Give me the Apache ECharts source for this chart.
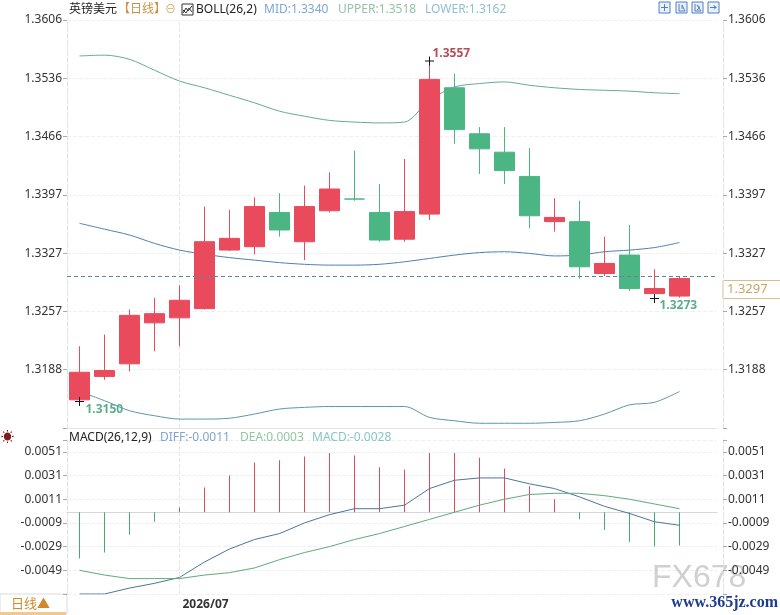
<!DOCTYPE html>
<html>
<head>
<meta charset="utf-8">
<script src="https://cdn.jsdelivr.net/npm/echarts@6/dist/echarts.min.js"></script>
<style>
html, body { margin: 0; padding: 0; background: #fff; }
#main { width: 780px; height: 615px; }
</style>
</head>
<body>
<div id="main"></div>
<script>
// daily GBP/USD, one empty slot kept on the right
const dates = ['2026/06/25', '2026/06/26', '2026/06/29', '2026/06/30',
    '2026/07/01', '2026/07/02', '2026/07/03', '2026/07/06', '2026/07/07', '2026/07/08',
    '2026/07/09', '2026/07/10', '2026/07/13', '2026/07/14', '2026/07/15', '2026/07/16',
    '2026/07/17', '2026/07/20', '2026/07/21', '2026/07/22', '2026/07/23', '2026/07/24',
    '2026/07/27', '2026/07/28', '2026/07/29', ' '];
const opens = [1.3152, 1.3180, 1.3195, 1.3244, 1.3250, 1.3261, 1.3331, 1.3335, 1.3376, 1.3341,
    1.3378, 1.3392, 1.3376, 1.3344, 1.3374, 1.3525, 1.3470, 1.3448, 1.3419, 1.3365,
    1.3365, 1.3303, 1.3325, 1.3279, 1.3276];
const closes = [1.3185, 1.3187, 1.3253, 1.3255, 1.3271, 1.3341, 1.3345, 1.3383, 1.3355, 1.3383,
    1.3404, 1.3392, 1.3343, 1.3377, 1.3535, 1.3475, 1.3452, 1.3426, 1.3372, 1.3370,
    1.3311, 1.3315, 1.3285, 1.3285, 1.3297];
const lows = [1.3150, 1.3176, 1.3186, 1.3210, 1.3216, 1.3260, 1.3330, 1.3326, 1.3347, 1.3319,
    1.3376, 1.3390, 1.3341, 1.3341, 1.3367, 1.3458, 1.3422, 1.3410, 1.3357, 1.3353,
    1.3297, 1.3300, 1.3282, 1.3273, 1.3274];
const highs = [1.3216, 1.3230, 1.3260, 1.3274, 1.3289, 1.3383, 1.3379, 1.3394, 1.3399, 1.3408,
    1.3424, 1.3450, 1.3410, 1.3440, 1.3557, 1.3542, 1.3478, 1.3478, 1.3453, 1.3393,
    1.3390, 1.3347, 1.3361, 1.3308, 1.3300];

const bollUpper = [1.3563, 1.3564, 1.3559, 1.3546, 1.3533, 1.3525, 1.3516, 1.3507, 1.3497, 1.3491,
    1.3486, 1.3484, 1.3483, 1.3484, 1.3510, 1.3526, 1.3530, 1.3532, 1.3528, 1.3525,
    1.3523, 1.3522, 1.3521, 1.3519, 1.3518];
const bollMid = [1.3363, 1.3356, 1.3349, 1.3339, 1.3331, 1.3326, 1.3322, 1.3319, 1.3316, 1.3314,
    1.3313, 1.3313, 1.3314, 1.3317, 1.3321, 1.3325, 1.3328, 1.3329, 1.3327, 1.3324,
    1.3325, 1.3329, 1.3331, 1.3334, 1.3340];
const bollLower = [1.3162, 1.3151, 1.3139, 1.3133, 1.3129, 1.3129, 1.3130, 1.3135, 1.3141, 1.3143,
    1.3144, 1.3144, 1.3144, 1.3144, 1.3131, 1.3127, 1.3124, 1.3124, 1.3124, 1.3125,
    1.3127, 1.3135, 1.3146, 1.3149, 1.3162];

const macdBar = [-0.0039, -0.0034, -0.0019, -0.0008, 0.0004, 0.0021, 0.0031, 0.0042, 0.0044, 0.0047,
    0.0050, 0.0048, 0.0038, 0.0036, 0.0050, 0.0050, 0.0046, 0.0037, 0.0022, 0.0011,
    -0.0006, -0.0015, -0.0025, -0.0029, -0.0028];
const macdDiff = [-0.0069, -0.0069, -0.0064, -0.0060, -0.0055, -0.0042, -0.0031, -0.0023, -0.0018, -0.0009,
    -0.0002, 0.0003, 0.0003, 0.0006, 0.0020, 0.0027, 0.0029, 0.0029, 0.0024, 0.0020,
    0.0013, 0.0005, -0.0001, -0.0008, -0.0011];
const macdDea = [-0.0049, -0.0053, -0.0056, -0.0056, -0.0056, -0.0053, -0.0051, -0.0047, -0.0040, -0.0034,
    -0.0029, -0.0023, -0.0018, -0.0012, -0.0006, 0.0000, 0.0006, 0.0011, 0.0015, 0.0016,
    0.0016, 0.0014, 0.0011, 0.0007, 0.0003];

const priceTicks = [1.3606, 1.3536, 1.3466, 1.3397, 1.3327, 1.3257, 1.3188];
const macdTicks = [0.0051, 0.0031, 0.0011, -0.0009, -0.0029, -0.0049];

const UP = '#e94b5c', DOWN = '#4bb583';
const FONT = "'Noto Sans', 'Noto Sans CJK SC', sans-serif";

const candles = opens.map((o, i) => [o, closes[i], lows[i], highs[i]]);
const last = closes.length - 1;

// top / bottom markers
let hiIdx = 0, loIdx = 0;
highs.forEach((h, i) => { if (h > highs[hiIdx]) hiIdx = i; });
lows.forEach((l, i) => { if (l < lows[loIdx]) loIdx = i; });
let lo2Idx = hiIdx + 1;
for (let i = hiIdx + 1; i < lows.length; i++) if (lows[i] < lows[lo2Idx]) lo2Idx = i;

const monthIdx = dates.findIndex(d => d.endsWith('/01'));

const priceStep = (priceTicks[0] - priceTicks[priceTicks.length - 1]) / (priceTicks.length - 1);
const priceMax = priceTicks[0];
const priceMin = priceTicks[priceTicks.length - 1] - priceStep;
const macdStep = 0.002;
const macdMin = -0.0069, macdMax = 0.0061;

function tickText(ticks, half) {
    return function (v) {
        const t = ticks.find(x => Math.abs(x - v) < half);
        return t === undefined ? '' : t.toFixed(4);
    };
}

const cross = 'path://M0 4H9V5H0Z M4 0H5V9H4Z';
const monthLine = {
    silent: true, symbol: 'none', label: { show: false }, z: 1,
    data: [{ xAxis: dates[monthIdx], lineStyle: { color: '#e6e6e6', type: 'dashed', width: 1 } }]
};

function yAxisBase(gridIndex, pos) {
    return {
        type: 'value', gridIndex: gridIndex, position: pos, scale: true,
        offset: pos === 'right' ? 6 : 0,
        axisLine: { show: true, lineStyle: { color: '#e2e2e2', type: 'dashed' } },
        axisTick: { show: true, length: 4, lineStyle: { color: '#aaa' } },
        splitLine: { show: pos === 'left', lineStyle: { color: '#efefef', type: 'dashed' } },
        axisLabel: { color: '#333', fontSize: 12, fontFamily: FONT, margin: 5 }
    };
}

const chart = echarts.init(document.getElementById('main'));
chart.setOption({
    animation: false,
    backgroundColor: '#fff',
    grid: [
        { left: 67, top: 20, width: 650, height: 408 },
        { left: 67, top: 440, width: 650, height: 154 }
    ],
    xAxis: [
        { type: 'category', gridIndex: 0, data: dates, boundaryGap: true,
          axisLine: { show: true, lineStyle: { color: '#e4e4e4' } },
          axisTick: { show: false }, axisLabel: { show: false }, splitLine: { show: false } },
        { type: 'category', gridIndex: 1, data: dates, boundaryGap: true,
          axisLine: { show: true, lineStyle: { color: '#d6d6d6' } },
          axisTick: { show: false }, splitLine: { show: false },
          axisLabel: { interval: 0, align: 'left', margin: 5, color: '#333', fontSize: 12,
                       fontWeight: 'bold', fontFamily: FONT, padding: [0, 0, 0, 3],
                       formatter: (v, i) => i === monthIdx ? v.slice(0, 7) : '' } }
    ],
    yAxis: [
        Object.assign(yAxisBase(0, 'left'), { min: priceMin, max: priceMax, interval: priceStep,
            axisLabel: Object.assign(yAxisBase(0, 'left').axisLabel, { formatter: tickText(priceTicks, priceStep / 2) }) }),
        Object.assign(yAxisBase(0, 'right'), { min: priceMin, max: priceMax, interval: priceStep,
            axisLabel: Object.assign(yAxisBase(0, 'right').axisLabel, { formatter: tickText(priceTicks, priceStep / 2) }) }),
        Object.assign(yAxisBase(1, 'left'), { min: macdMin, max: macdMax, interval: macdStep,
            axisLabel: Object.assign(yAxisBase(1, 'left').axisLabel, { formatter: tickText(macdTicks, 0.0005) }) }),
        Object.assign(yAxisBase(1, 'right'), { min: macdMin, max: macdMax, interval: macdStep,
            axisLabel: Object.assign(yAxisBase(1, 'right').axisLabel, { formatter: tickText(macdTicks, 0.0005) }) })
    ],
    series: [
        {
            type: 'candlestick', xAxisIndex: 0, yAxisIndex: 0, data: candles, barWidth: 20, z: 3,
            itemStyle: { color: UP, color0: DOWN, borderColor: UP, borderColor0: DOWN, borderWidth: 1 },
            markLine: {
                silent: true, symbol: 'none', label: { show: false },
                data: [{ yAxis: closes[last], lineStyle: { color: '#5b84b1', type: [4, 3], width: 1 } }]
            },
            markPoint: {
                symbol: cross, symbolSize: 9, itemStyle: { color: '#111' },
                label: { show: true, fontSize: 12, fontWeight: 'bold', fontFamily: FONT,
                         align: 'left', verticalAlign: 'middle' },
                data: [
                    { coord: [hiIdx, highs[hiIdx]], value: highs[hiIdx],
                      label: { position: [7.5, -2.5], color: '#b94c5b', formatter: highs[hiIdx].toFixed(4) } },
                    { coord: [loIdx, lows[loIdx]], value: lows[loIdx],
                      label: { position: [10.5, 12.5], color: '#5aae8e', formatter: lows[loIdx].toFixed(4) } },
                    { coord: [lo2Idx, lows[lo2Idx]], value: lows[lo2Idx],
                      label: { position: [9.5, 11.5], color: '#5aae8e', formatter: lows[lo2Idx].toFixed(4) } }
                ]
            }
        },
        { type: 'line', name: 'UPPER', xAxisIndex: 0, yAxisIndex: 0, data: bollUpper, showSymbol: false,
          smooth: 0.3, lineStyle: { color: '#66a89a', width: 1 }, markLine: monthLine },
        { type: 'line', name: 'MID', xAxisIndex: 0, yAxisIndex: 0, data: bollMid, showSymbol: false,
          smooth: 0.3, lineStyle: { color: '#4f80b0', width: 1 } },
        { type: 'line', name: 'LOWER', xAxisIndex: 0, yAxisIndex: 0, data: bollLower, showSymbol: false,
          smooth: 0.3, lineStyle: { color: '#5b96ab', width: 1 } },
        {
            type: 'bar', xAxisIndex: 1, yAxisIndex: 2, data: macdBar, barWidth: 1,
            itemStyle: { color: p => p.value >= 0 ? '#d94d5e' : '#4aa57b' },
            markLine: monthLine
        },
        { type: 'line', name: 'DIFF', xAxisIndex: 1, yAxisIndex: 2, data: macdDiff, showSymbol: false,
          lineStyle: { color: '#4e7596', width: 1 } },
        { type: 'line', name: 'DEA', xAxisIndex: 1, yAxisIndex: 2, data: macdDea, showSymbol: false,
          lineStyle: { color: '#5fa97f', width: 1 } }
    ]
});

// header texts, price tag, watermark
const priceY = chart.convertToPixel({ yAxisIndex: 0 }, closes[last]);
const txt = (x, y, text, color, extra) => ({
    type: 'text', x: x, y: y, silent: true,
    style: Object.assign({ text: text, fill: color, fontSize: 12, fontFamily: FONT, verticalAlign: 'middle' }, extra || {})
});
function iconBox(x, glyph) {
    return {
        type: 'group', x: x, y: 2, silent: true,
        children: [
            { type: 'rect', shape: { x: 0, y: 0, width: 11, height: 11 },
              style: { fill: '#eaf1fb', stroke: '#4d7fc4', lineWidth: 1 } },
            { type: 'polyline', shape: { points: glyph }, style: { fill: null, stroke: '#4d7fc4', lineWidth: 1 } }
        ]
    };
}

chart.setOption({
    graphic: [
        txt(69, 10, '英镑美元', '#222'),
        txt(118, 10, '【日线】', '#c8924a'),
        txt(165, 10, '⊖', '#d6a45e', { fontSize: 11 }),
        { type: 'group', x: 182, y: 4, silent: true, children: [
            { type: 'rect', shape: { x: 0, y: 0, width: 11, height: 11 }, style: { fill: '#fff', stroke: '#333', lineWidth: 1 } },
            { type: 'polyline', shape: { points: [[1, 9], [4, 4], [6, 7], [10, 2]] }, style: { fill: null, stroke: '#333', lineWidth: 1 } },
            { type: 'polyline', shape: { points: [[1, 6], [4, 9], [7, 4], [10, 8]] }, style: { fill: null, stroke: '#333', lineWidth: 1 } }
        ] },
        txt(196, 10, 'BOLL(26,2)', '#222'),
        txt(264, 10, 'MID:' + bollMid[last].toFixed(4), '#7fa6d4'),
        txt(338, 10, 'UPPER:' + bollUpper[last].toFixed(4), '#94c2aa'),
        txt(425, 10, 'LOWER:' + bollLower[last].toFixed(4), '#8fbfd2'),

        iconBox(659, [[5.5, 2], [5.5, 9], [5.5, 5.5], [2, 5.5], [9, 5.5]]),
        iconBox(676, [[3, 2], [3, 9], [9, 9], [9, 9], [6, 3], [6, 7]]),
        iconBox(692, [[3, 2], [3, 9], [9, 9], [9, 9], [5, 3], [8, 5.5], [5, 8]]),
        iconBox(708, [[2, 5.5], [8, 5.5], [6, 3.5], [8, 5.5], [6, 7.5]]),

        { type: 'group', x: 723, y: priceY + 2, silent: true, children: [
            { type: 'rect', shape: { x: 0, y: 0, width: 60, height: 18 }, style: { fill: '#fff', stroke: '#d9bd86', lineWidth: 1 } },
            { type: 'text', x: 4, y: 9, style: { text: closes[last].toFixed(4), fill: '#c7a66a', fontSize: 13, fontFamily: FONT, verticalAlign: 'middle' } }
        ] },

        txt(1, 437, '☀', '#7a1f1f', { fontSize: 13 }),
        txt(69, 438, 'MACD(26,12,9)', '#222'),
        txt(160, 438, 'DIFF:' + macdDiff[last].toFixed(4), '#7ea6d2'),
        txt(240, 438, 'DEA:' + macdDea[last].toFixed(4), '#93c6a5'),
        txt(312, 438, 'MACD:' + macdBar[last].toFixed(4), '#86c6ca'),

        { type: 'rect', silent: true, shape: { x: 0, y: 594, width: 67, height: 20 },
          style: { fill: '#fff', stroke: '#dcdcdc', lineWidth: 1 } },
        { type: 'rect', silent: true, shape: { x: 0, y: 612, width: 66, height: 3 }, style: { fill: '#f0c890' } },
        txt(11, 604, '日线▲', '#cf8a2c', { fontSize: 13 }),

        txt(652, 578, 'FX678', 'rgba(150,150,150,0.45)', { fontSize: 32, fontFamily: "'Liberation Sans', sans-serif" }),
        txt(778, 603, 'www.365jz.com', '#1d3c8f', { fontSize: 16, fontWeight: 'bold', align: 'right',
            fontFamily: "'Liberation Serif', serif" })
    ]
});
</script>
</body>
</html>
